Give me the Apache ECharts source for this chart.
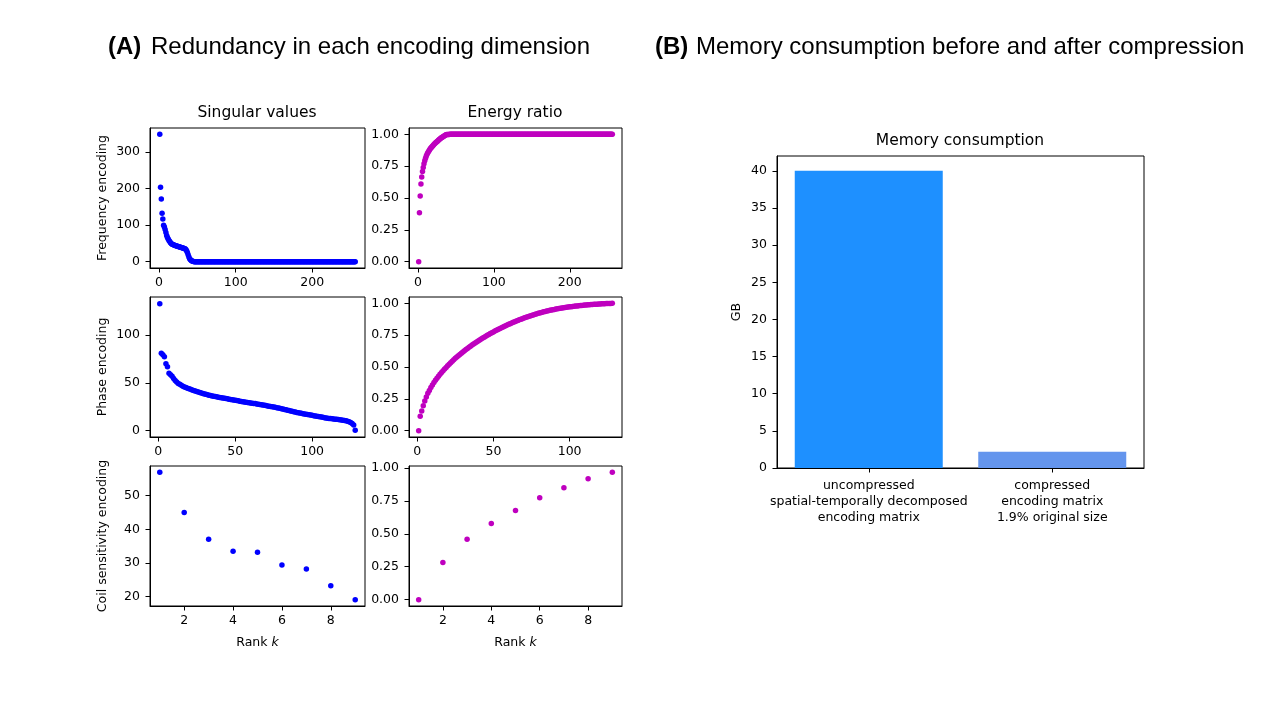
<!DOCTYPE html>
<html><head><meta charset="utf-8">
<script src="https://cdn.jsdelivr.net/npm/echarts@6/dist/echarts.min.js"></script>
<style>html,body{margin:0;padding:0;background:#fff}#c{width:1280px;height:720px}</style>
</head><body><div id="c"></div>
<script>
// ---------- DATA ----------
const freqSingular = [
349,204,172,133,117,100,95,88,80,72,
66,62,58,55,52,50,48,47,46,45,
44,43.5,43,42,41.5,41,40,39.5,39,38,
37.5,37,36,35,33,30,25,19,13,8,
5,3,2,1,0.5,
0,0,0,0,0,0,0,0,0,0,
0,0,0,0,0,0,0,0,0,0,
0,0,0,0,0,0,0,0,0,0,
0,0,0,0,0,0,0,0,0,0,
0,0,0,0,0,0,0,0,0,0,
0,0,0,0,0,0,0,0,0,0,
0,0,0,0,0,0,0,0,0,0,
0,0,0,0,0,0,0,0,0,0,
0,0,0,0,0,0,0,0,0,0,
0,0,0,0,0,0,0,0,0,0,
0,0,0,0,0,0,0,0,0,0,
0,0,0,0,0,0,0,0,0,0,
0,0,0,0,0,0,0,0,0,0,
0,0,0,0,0,0,0,0,0,0,
0,0,0,0,0,0,0,0,0,0,
0,0,0,0,0,0,0,0,0,0,
0,0,0,0,0,0,0,0,0,0,
0,0,0,0,0,0,0,0,0,0,
0,0,0,0,0,0,0,0,0,0,
0,0,0,0,0,0,0,0,0,0,
0,0,0,0,0,0,0,0,0,0,
0
];
const freqEnergy = [
0,0.3846,0.5160,0.6094,0.6653,0.7085,0.7401,0.7686,0.7930,0.8132,
0.8296,0.8434,0.8555,0.8661,0.8757,0.8842,0.8921,0.8994,0.9064,0.9130,
0.9194,0.9256,0.9315,0.9374,0.9429,0.9484,0.9537,0.9587,0.9637,0.9685,
0.9730,0.9775,0.9818,0.9859,0.9897,0.9932,0.9960,0.9980,0.9991,0.9997,
0.9999,
1,1,1,1,1,1,1,1,1,1,
1,1,1,1,1,1,1,1,1,1,
1,1,1,1,1,1,1,1,1,1,
1,1,1,1,1,1,1,1,1,1,
1,1,1,1,1,1,1,1,1,1,
1,1,1,1,1,1,1,1,1,1,
1,1,1,1,1,1,1,1,1,1,
1,1,1,1,1,1,1,1,1,1,
1,1,1,1,1,1,1,1,1,1,
1,1,1,1,1,1,1,1,1,1,
1,1,1,1,1,1,1,1,1,1,
1,1,1,1,1,1,1,1,1,1,
1,1,1,1,1,1,1,1,1,1,
1,1,1,1,1,1,1,1,1,1,
1,1,1,1,1,1,1,1,1,1,
1,1,1,1,1,1,1,1,1,1,
1,1,1,1,1,1,1,1,1,1,
1,1,1,1,1,1,1,1,1,1,
1,1,1,1,1,1,1,1,1,1,
1,1,1,1,1,1,1,1,1,1,
1,1,1,1,1,1,1,1,1,1,
1,1,1,1,1
];
const phaseSingular = [
133,81,79.5,77.5,70,67,60,58.5,57,54.5,
52.5,51,49.5,48.5,47.5,46.5,45.8,45.1,44.5,43.9,
43.3,42.7,42.1,41.5,40.9,40.4,39.9,39.4,38.9,38.4,
38.0,37.6,37.2,36.8,36.4,36.0,35.7,35.4,35.1,34.8,
34.5,34.2,33.9,33.6,33.3,33.0,32.7,32.4,32.1,31.8,
31.5,31.2,30.9,30.6,30.3,30.0,29.8,29.5,29.3,29.0,
28.8,28.5,28.3,28.0,27.7,27.4,27.1,26.8,26.5,26.2,
25.9,25.6,25.3,25.0,24.7,24.4,24.1,23.8,23.4,23.0,
22.6,22.2,21.8,21.4,21.0,20.6,20.2,19.8,19.4,19.0,
18.7,18.4,18.1,17.8,17.5,17.2,16.9,16.6,16.3,16.0,
15.7,15.4,15.1,14.8,14.5,14.2,13.9,13.6,13.3,13.0,
12.8,12.6,12.4,12.2,12.0,11.8,11.6,11.4,11.2,11.0,
10.7,10.3,9.8,9.2,8.4,7.4,6.0,0.5
];
const phaseEnergy = [
0,0.1128,0.1547,0.1950,0.2333,0.2646,0.2932,0.3161,0.3380,0.3587,
0.3776,0.3952,0.4118,0.4274,0.4424,0.4568,0.4706,0.4840,0.4970,0.5096,
0.5219,0.5339,0.5455,0.5568,0.5678,0.5784,0.5889,0.5990,0.6089,0.6186,
0.6280,0.6372,0.6462,0.6550,0.6637,0.6721,0.6804,0.6885,0.6965,0.7044,
0.7121,0.7197,0.7271,0.7345,0.7417,0.7487,0.7557,0.7625,0.7692,0.7758,
0.7822,0.7885,0.7948,0.8008,0.8068,0.8127,0.8184,0.8241,0.8296,0.8351,
0.8405,0.8458,0.8509,0.8560,0.8610,0.8659,0.8707,0.8754,0.8800,0.8845,
0.8888,0.8931,0.8973,0.9014,0.9054,0.9093,0.9131,0.9168,0.9204,0.9239,
0.9272,0.9305,0.9336,0.9367,0.9396,0.9424,0.9451,0.9477,0.9502,0.9526,
0.9549,0.9571,0.9593,0.9614,0.9634,0.9654,0.9673,0.9691,0.9708,0.9725,
0.9742,0.9757,0.9773,0.9787,0.9801,0.9814,0.9827,0.9840,0.9851,0.9863,
0.9874,0.9884,0.9894,0.9904,0.9913,0.9923,0.9931,0.9940,0.9948,0.9956,
0.9964,0.9971,0.9978,0.9984,0.9990,0.9994,0.9998,1.0000
];
const coilSingular = [56.9, 45.0, 37.05, 33.5, 33.2, 29.4, 28.2, 23.2, 19.1];
const coilEnergy   = [0, 0.281, 0.458, 0.578, 0.676, 0.774, 0.849, 0.917, 0.967];

const memoryCategories = ['uncompressed\nspatial-temporally decomposed\nencoding matrix',
                          'compressed\nencoding matrix\n1.9% original size'];
const memoryGB = [40, 2.2];

const ticksFreqX = [0, 100, 200];
const ticksPhaseX = [0, 50, 100];
const ticksCoilX = [2, 4, 6, 8];
const ticksFreqY = [0, 100, 200, 300];
const ticksPhaseY = [0, 50, 100];
const ticksCoilY = [20, 30, 40, 50];
const ticksEnergy = [0, 0.25, 0.5, 0.75, 1.0];
const ticksMem = [0, 5, 10, 15, 20, 25, 30, 35, 40];

// ---------- STYLE ----------
const F = 'DejaVu Sans';
const BLUE = '#0000FF', MAG = '#BF00BF';
const barColors = ['#1E90FF', '#6495ED'];
const toPairs = arr => arr.map((v, i) => [i + 1, v]);
const fmtE = v => v.toFixed(2);
const fmtN = v => String(v);

function vAxis(gi, min, max, ticks, fmt, margin, extra) {
  return Object.assign({
    type: 'value', gridIndex: gi, min: min, max: max,
    axisLine: {show: true, onZero: false, lineStyle: {color: '#000', width: 1}},
    axisTick: {show: true, inside: false, length: 4.5, lineStyle: {color: '#000', width: 1}, customValues: ticks},
    axisLabel: {show: true, customValues: ticks, formatter: fmt, color: '#000', fontSize: 12.5, fontFamily: F, margin: margin},
    splitLine: {show: false}
  }, extra || {});
}
const nameStyle = {color: '#000', fontSize: 12.5, fontFamily: F,
  rich: {it: {fontStyle: 'italic', color: '#000', fontSize: 12.5, fontFamily: F}}};
function yName(n) { return {name: n, nameLocation: 'middle', nameGap: 41, nameTextStyle: nameStyle}; }
function xName(n) { return {name: n, nameLocation: 'middle', nameGap: 30, nameTextStyle: nameStyle}; }

const gridBase = {show: true, borderColor: '#000', borderWidth: 1, containLabel: false};
const grids = [
  {left: 150, top: 128, width: 215, height: 140},
  {left: 409, top: 128, width: 213, height: 140},
  {left: 150, top: 297, width: 215, height: 140},
  {left: 409, top: 297, width: 213, height: 140},
  {left: 150, top: 466, width: 215, height: 140},
  {left: 409, top: 466, width: 213, height: 140},
  {left: 777, top: 156, width: 367, height: 312}
].map(g => Object.assign({}, gridBase, g));

const XM = 8, YM = 10;
const xAxes = [
  vAxis(0, -11.75, 268.75, ticksFreqX, fmtN, XM),
  vAxis(1, -11.75, 268.75, ticksFreqX, fmtN, XM),
  vAxis(2, -5.35, 134.35, ticksPhaseX, fmtN, XM),
  vAxis(3, -5.35, 134.35, ticksPhaseX, fmtN, XM),
  vAxis(4, 0.6, 9.4, ticksCoilX, fmtN, XM, xName('Rank {it|k}')),
  vAxis(5, 0.6, 9.4, ticksCoilX, fmtN, XM, xName('Rank {it|k}')),
  {type: 'category', gridIndex: 6, data: memoryCategories,
   axisLine: {show: true, onZero: false, lineStyle: {color: '#000'}},
   axisTick: {show: true, alignWithLabel: true, length: 4.5, lineStyle: {color: '#000'}},
   axisLabel: {color: '#000', fontSize: 12.5, fontFamily: F, margin: 10, lineHeight: 16, interval: 0},
   splitLine: {show: false}}
];
const yAxes = [
  vAxis(0, -17.45, 366.45, ticksFreqY, fmtN, YM, yName('Frequency encoding')),
  vAxis(1, -0.05, 1.05, ticksEnergy, fmtE, YM),
  vAxis(2, -6.67, 140, ticksPhaseY, fmtN, YM, yName('Phase encoding')),
  vAxis(3, -0.05, 1.05, ticksEnergy, fmtE, YM),
  vAxis(4, 17.21, 58.79, ticksCoilY, fmtN, YM, yName('Coil sensitivity encoding')),
  vAxis(5, -0.0483, 1.0143, ticksEnergy, fmtE, YM),
  vAxis(6, 0, 42, ticksMem, fmtN, YM, {name: 'GB', nameLocation: 'middle', nameGap: 34, nameTextStyle: nameStyle})
];

function sc(i, arr, color) {
  return {type: 'scatter', xAxisIndex: i, yAxisIndex: i, data: toPairs(arr),
    symbol: 'circle', symbolSize: 5.5, itemStyle: {color: color, opacity: 1}, silent: true, clip: false};
}
const series = [
  sc(0, freqSingular, BLUE), sc(1, freqEnergy, MAG),
  sc(2, phaseSingular, BLUE), sc(3, phaseEnergy, MAG),
  sc(4, coilSingular, BLUE), sc(5, coilEnergy, MAG),
  {type: 'bar', xAxisIndex: 6, yAxisIndex: 6, barWidth: 148, silent: true,
   data: memoryGB.map((v, i) => ({value: v, itemStyle: {color: barColors[i]}}))}
];

function txt(x, y, s, font, align) {
  return {type: 'text', x: x, y: y, silent: true,
    style: {text: s, font: font, fill: '#000', textAlign: align || 'center', textVerticalAlign: 'middle',
            align: align || 'center', verticalAlign: 'middle'}};
}
const H = '24px "Liberation Sans", Arial, sans-serif';
const HB = 'bold 24px "Liberation Sans", Arial, sans-serif';
const T = '15.5px "DejaVu Sans"';
const graphics = [
  txt(108, 47, '(A)', HB, 'left'),
  txt(151, 47, 'Redundancy in each encoding dimension', H, 'left'),
  txt(655, 47, '(B)', HB, 'left'),
  txt(696, 47, 'Memory consumption before and after compression', H, 'left'),
  txt(257, 113, 'Singular values', T),
  txt(515, 113, 'Energy ratio', T),
  txt(960, 141, 'Memory consumption', T)
];

const chart = echarts.init(document.getElementById('c'), null, {renderer: 'canvas'});
chart.setOption({
  animation: false,
  backgroundColor: '#fff',
  grid: grids, xAxis: xAxes, yAxis: yAxes, series: series,
  graphic: graphics
});
</script></body></html>
